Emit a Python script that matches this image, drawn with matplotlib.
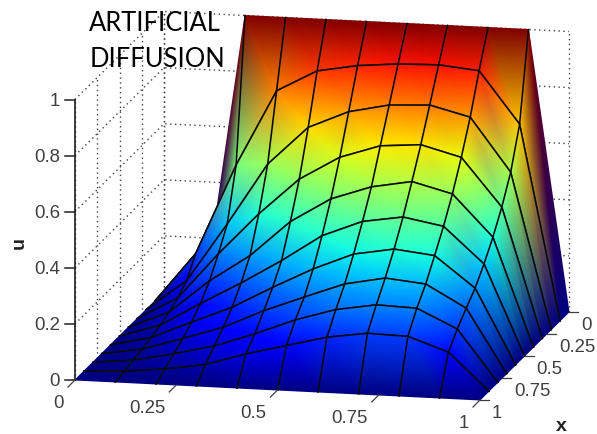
import matplotlib
import matplotlib.pyplot as plt
import numpy as np

matplotlib.use("Agg")

# grid of the surface, u, one row per x, y running 0..1
y_grid = [0, 0.1, 0.2, 0.3, 0.4, 0.5, 0.6, 0.7, 0.8, 0.9, 1]
x_grid = [0, 0.1, 0.2, 0.3, 0.4, 0.5, 0.6, 0.7, 0.8, 0.9, 1]
u_x00 = [0, 0, 1, 1, 1, 1, 1, 1, 1, 1, 0]
u_x01 = [0, 0.175, 0.498, 0.770, 0.848, 0.874, 0.887, 0.891, 0.877, 0.694, 0]
u_x02 = [0, 0.110, 0.319, 0.540, 0.678, 0.741, 0.772, 0.779, 0.743, 0.554, 0]
u_x03 = [0, 0.080, 0.244, 0.394, 0.525, 0.610, 0.658, 0.669, 0.631, 0.461, 0]
u_x04 = [0, 0.060, 0.179, 0.276, 0.405, 0.493, 0.543, 0.569, 0.532, 0.385, 0]
u_x05 = [0, 0.045, 0.130, 0.210, 0.297, 0.393, 0.451, 0.474, 0.448, 0.321, 0]
u_x06 = [0, 0.033, 0.095, 0.155, 0.233, 0.306, 0.366, 0.391, 0.375, 0.266, 0]
u_x07 = [0, 0.023, 0.068, 0.115, 0.181, 0.237, 0.291, 0.319, 0.305, 0.226, 0]
u_x08 = [0, 0.015, 0.045, 0.080, 0.130, 0.187, 0.231, 0.255, 0.250, 0.183, 0]
u_x09 = [0, 0.007, 0.022, 0.045, 0.090, 0.127, 0.164, 0.185, 0.181, 0.132, 0]
u_x10 = [0, 0, 0, 0, 0, 0, 0, 0, 0, 0, 0]

y_ticks = [0, 0.25, 0.5, 0.75, 1]
y_tick_labels = ["0", "0.25", "0.5", "0.75", "1"]
x_ticks = [0, 0.25, 0.5, 0.75, 1]
x_tick_labels = ["0", "0.25", "0.5", "0.75", "1"]
u_ticks = [0, 0.2, 0.4, 0.6, 0.8, 1]
u_tick_labels = ["0", "0.2", "0.4", "0.6", "0.8", "1"]

TICK_COLOR = "#404040"
TICK_FONT = "Liberation Sans"
MESH_LINE = dict(color="#0a0a0a", lw=1.15)
DOTS = dict(color="#444444", lw=1.0, ls=(0, (1, 2.5)), zorder=1)


def project(y, x, u):
    # orthographic view, same as the matlab box: corners in image pixels
    y, x, u = np.asarray(y, float), np.asarray(x, float), np.asarray(u, float)
    return 164 + 405 * y - 89 * x, 293 + 20 * y + 88 * x - 280.5 * u


U = np.array([u_x00, u_x01, u_x02, u_x03, u_x04, u_x05, u_x06, u_x07, u_x08, u_x09, u_x10])
Yg, Xg = np.meshgrid(y_grid, x_grid)
SX, SY = project(Yg, Xg, U)

fig = plt.figure(figsize=(5.97, 4.35), dpi=100)
ax = fig.add_axes([0, 0, 1, 1])
ax.set_xlim(0, 597)
ax.set_ylim(435, 0)
ax.axis("off")

# dotted box behind the surface
for u in u_ticks[1:]:
    ax.plot(*project([0, 0, 1], [1, 0, 0], [u, u, u]), **DOTS)
for x in x_ticks:
    ax.plot(*project([0, 0], [x, x], [0, 1]), **DOTS)
for y in y_ticks:
    ax.plot(*project([y, y], [0, 0], [0, 1]), **DOTS)

# strips from back to front so the near part hides the far part
ny = len(y_grid)
for j in range(len(x_grid) - 1):
    tris = []
    for i in range(ny - 1):
        tris.append([i, i + 1, i + 1 + ny])
        tris.append([i, i + 1 + ny, i + ny])
    sx = np.r_[SX[j], SX[j + 1]]
    sy = np.r_[SY[j], SY[j + 1]]
    cc = np.r_[U[j], U[j + 1]]
    z = 2 + 2 * j
    ax.tripcolor(sx, sy, np.array(tris), cc, shading="gouraud", cmap="jet",
                 vmin=0, vmax=1, zorder=z)
    for row in (j, j + 1):
        if 0 < row < len(x_grid) - 1:
            ax.plot(SX[row], SY[row], zorder=z + 1, **MESH_LINE)
    for i in range(1, ny - 1):
        ax.plot(SX[j:j + 2, i], SY[j:j + 2, i], zorder=z + 1, **MESH_LINE)

# u axis
ax.plot(*project([0, 0], [1, 1], [0, 1]), color="#202020", lw=1.2, zorder=40)
for u, lab in zip(u_ticks, u_tick_labels):
    px, py = project(0, 1, u)
    ax.plot([px - 10, px], [py, py], color="#202020", lw=1.1, zorder=40)
    ax.text(px - 15, py + 0.5, lab, ha="right", va="center", fontsize=13.4,
            family=TICK_FONT, color=TICK_COLOR, zorder=41)

# front edge ticks
for y, lab in zip(y_ticks, y_tick_labels):
    px, py = project(y, 1, 0)
    ax.plot([px, px - 7], [py, py + 7], color=TICK_COLOR, lw=0.9, zorder=40)
    ax.text(px - 11, py + 23, lab, ha="right", va="center", fontsize=13.4,
            family=TICK_FONT, color=TICK_COLOR, zorder=41)

# right edge ticks
for x, lab in zip(x_ticks, x_tick_labels):
    px, py = project(1, x, 0)
    ax.plot([px, px + 9], [py, py], color=TICK_COLOR, lw=0.9, zorder=40)
    ax.text(px + 12, py + 12.5, lab, ha="left", va="center", fontsize=13.4,
            family=TICK_FONT, color=TICK_COLOR, zorder=41)

ax.text(19, 243, "u", rotation=90, ha="center", va="center", fontsize=14,
        family=TICK_FONT, fontweight="bold", color="#202020", zorder=41)
ax.text(561, 427, "x", ha="center", va="center", fontsize=14,
        family=TICK_FONT, fontweight="bold", color="#202020", zorder=41)

ax.text(89, 31, "ARTIFICIAL", ha="left", va="baseline", fontsize=18.4,
        family="Lato", color="black", zorder=50)
ax.text(90, 67, "DIFFUSION", ha="left", va="baseline", fontsize=18.4,
        family="Lato", color="black", zorder=50)

fig.savefig("out.png", dpi=100)
plt.close(fig)
